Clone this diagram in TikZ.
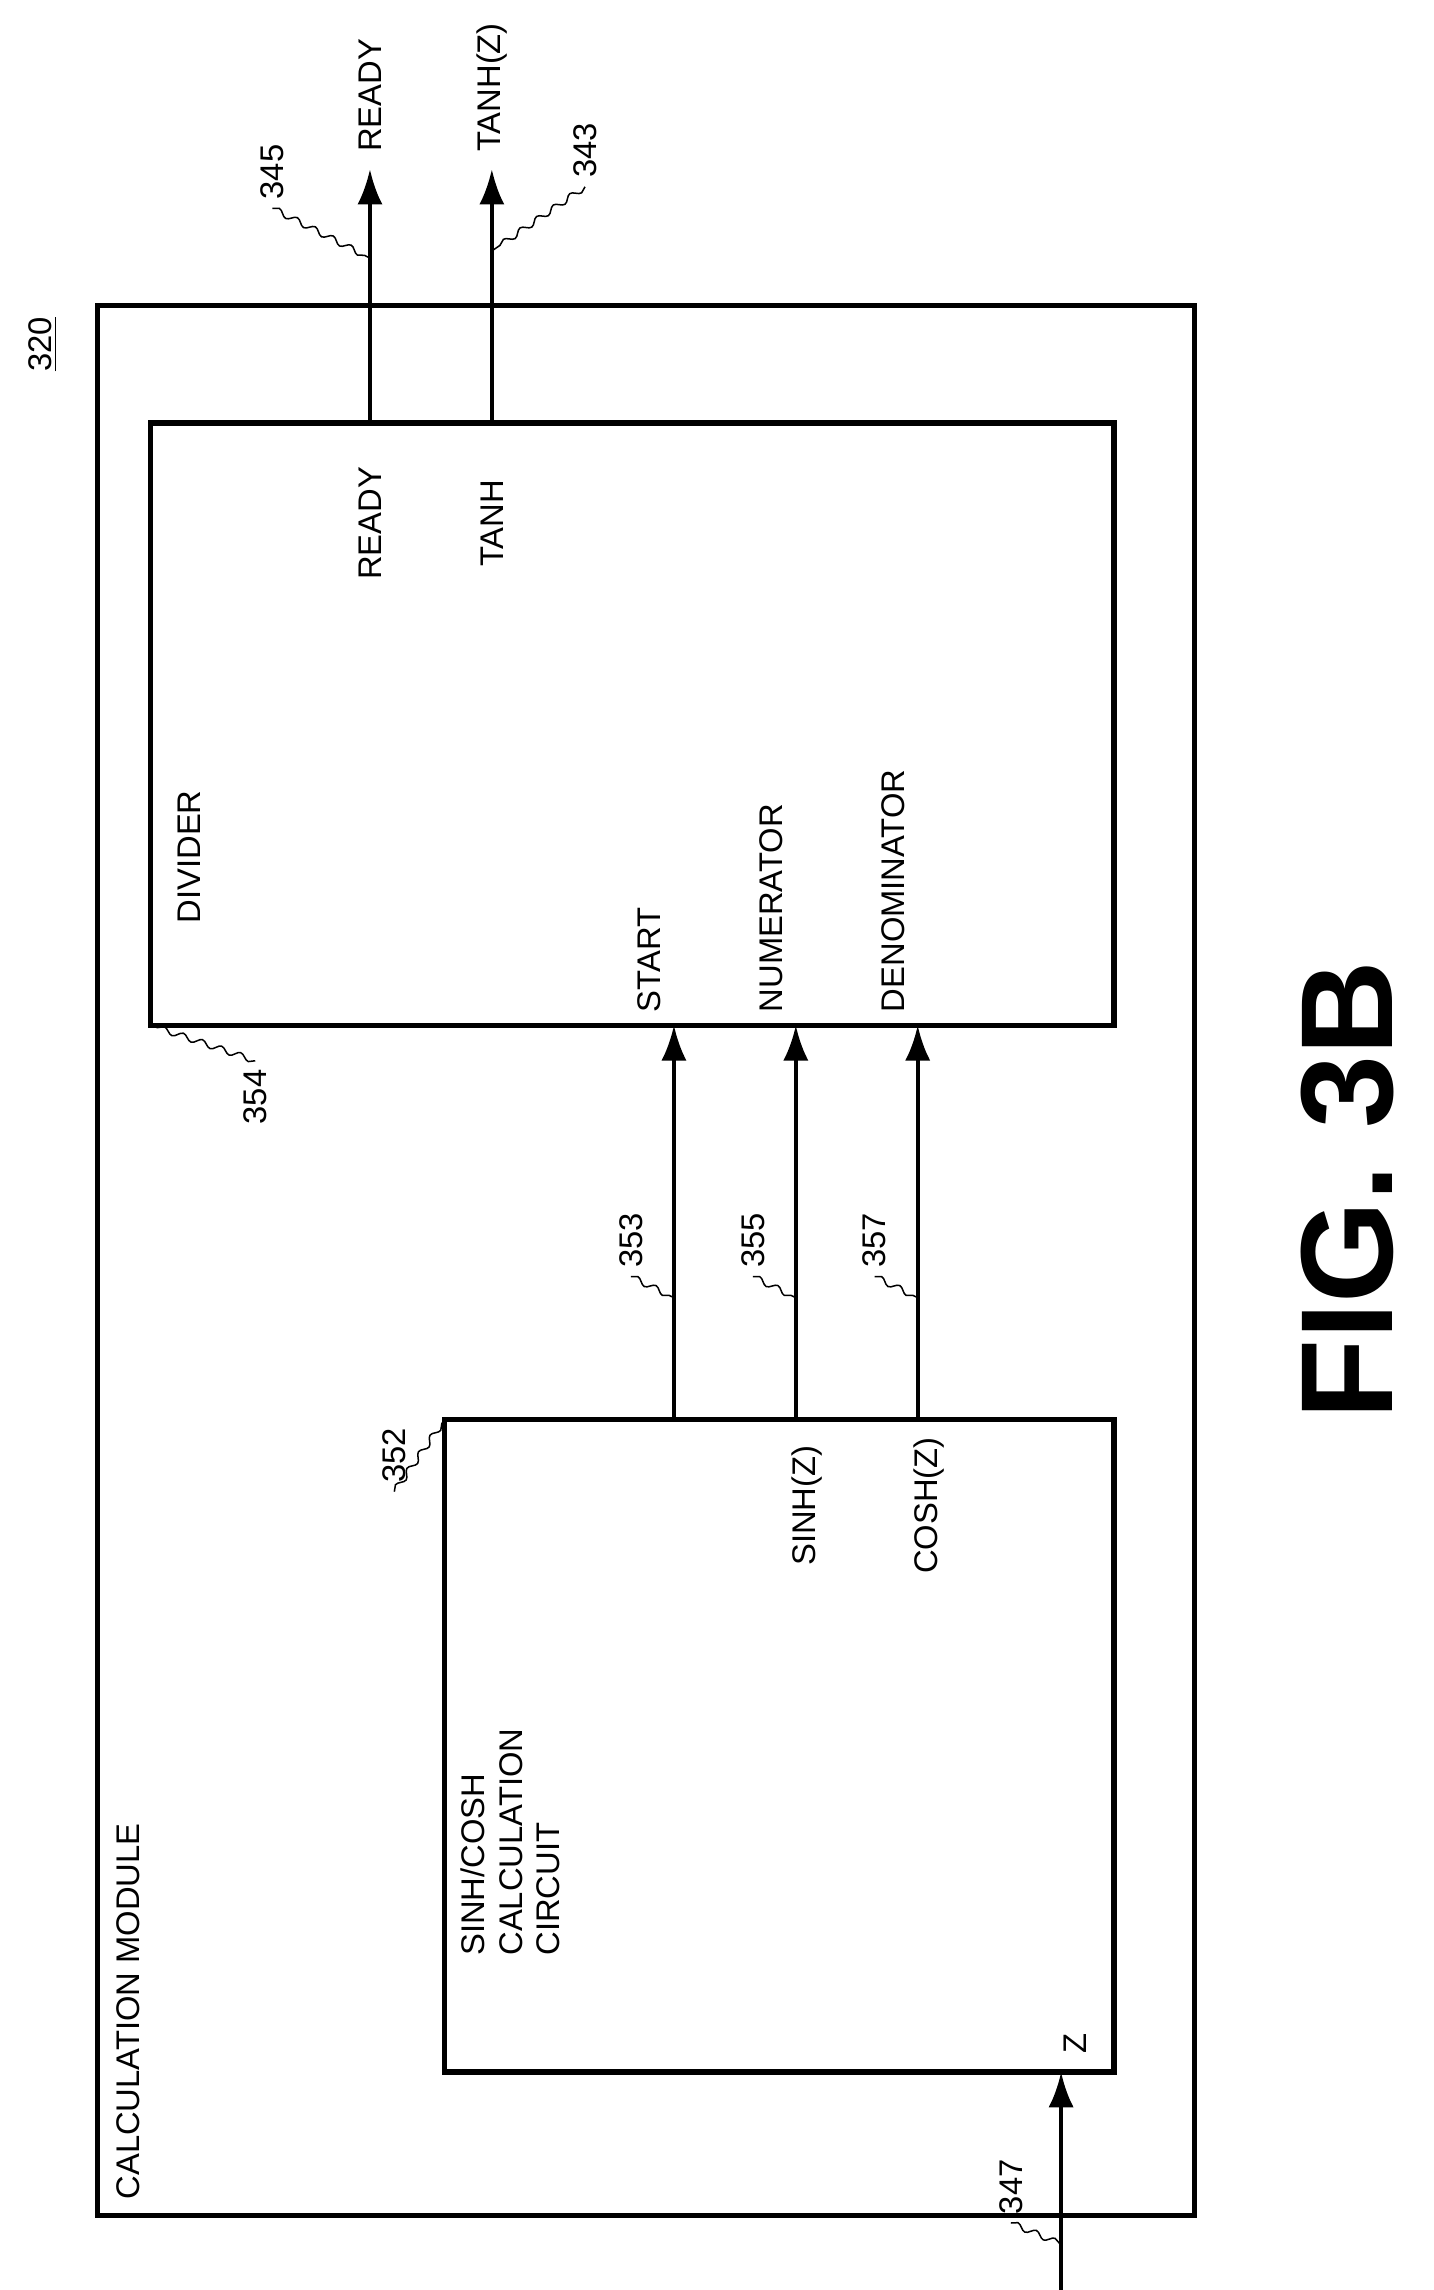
\documentclass[tikz,border=0pt]{standalone}
\usepackage{fontspec}
\setmainfont{Liberation Sans}
\usetikzlibrary{arrows.meta,decorations.pathmorphing}
\tikzset{
  lbl/.style={rotate=90, font=\fontsize{13}{15}\selectfont},
  sig/.style={line width=1.6pt, -{Latex[length=14pt,width=10pt]}},
  blk/.style={line width=2.2pt},
  lead/.style={line width=0.6pt, decorate, decoration={snake, amplitude=1.2pt, segment length=8pt}}
}
\begin{document}
\begin{tikzpicture}[x=0.02cm, y=-0.02cm]
		\useasboundingbox (0,0) rectangle (1000,1597);
		
		% Outer module and blocks
		\draw[blk] (68,213) rectangle (833,1545);
		\draw[blk] (105,295) rectangle (777,715);
		\draw[blk] (310,990) rectangle (777,1445);
		
		% Labels
		\node[lbl] (ref320) at (30,240) {\underline{320}};
		\node[lbl, anchor=north west] (calc) at (75,1540) {CALCULATION MODULE};
		\node[lbl, anchor=north east] (div) at (118,545) {DIVIDER};
		\node[lbl] (ready) at (258,365) {READY};
		\node[lbl] (tanh) at (343,365) {TANH};
		\node[lbl, anchor=south west] (start) at (467,712) {START};
		\node[lbl, anchor=south west] (numer) at (552,712) {NUMERATOR};
		\node[lbl, anchor=south west] (denom) at (637,712) {DENOMINATOR};
		\node[lbl, anchor=north west, align=left] (circ) at (315,1370) {SINH/COSH\\CALCULATION\\CIRCUIT};
		\node[lbl] (sinh) at (563,1050) {SINH(Z)};
		\node[lbl] (cosh) at (648,1050) {COSH(Z)};
		\node[lbl] (zin) at (750,1425) {Z};
		\node[lbl, anchor=west] (readyout) at (258,112) {READY};
		\node[lbl, anchor=west] (tanhout) at (343,112) {TANH(Z)};
		\node[rotate=90, font=\fontsize{52}{60}\selectfont\bfseries] (fig) at (940,830) {FIG. 3B};
		
		% Arrows between blocks
		\draw[sig] (470,990) -- (470,715);
		\draw[sig] (555,990) -- (555,715);
		\draw[sig] (640,990) -- (640,715);
		\draw[sig] (740,1597) -- (740,1445);
		\draw[sig] (258,295) -- (258,118);
		\draw[sig] (343,295) -- (343,118);
		
		% Reference numerals
		\node[lbl] (n353) at (440,865) {353};
		\node[lbl] (n355) at (525,865) {355};
		\node[lbl] (n357) at (610,865) {357};
		\node[lbl] (n354) at (178,765) {354};
		\node[lbl] (n352) at (275,1015) {352};
		\node[lbl] (n347) at (705,1525) {347};
		\node[lbl] (n345) at (190,120) {345};
		\node[lbl] (n343) at (408,105) {343};
		\draw[lead] (n353.west) -- (470,905);
		\draw[lead] (n355.west) -- (555,905);
		\draw[lead] (n357.west) -- (640,905);
		\draw[lead] (n354.east) -- (105,715);
		\draw[lead] (n352.west) -- (310,990);
		\draw[lead] (n347.west) -- (740,1565);
		\draw[lead] (n345.west) -- (258,180);
		\draw[lead] (n343.west) -- (343,175);
\end{tikzpicture}
\end{document}
